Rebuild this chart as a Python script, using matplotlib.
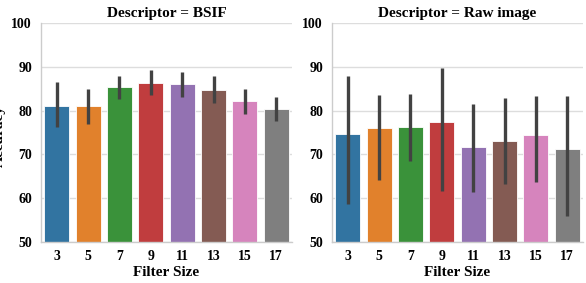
import matplotlib
matplotlib.use("Agg")
import matplotlib.pyplot as plt
import numpy as np

filter_sizes = ["3", "5", "7", "9", "11", "13", "15", "17"]
descriptors = ["BSIF", "Raw image"]
bsif_mean = [81.1, 81.0, 85.3, 86.3, 86.0, 84.8, 82.1, 80.3]
bsif_low = [76.2, 77.0, 82.6, 83.6, 83.2, 81.7, 79.2, 77.6]
bsif_high = [86.5, 85.0, 87.8, 89.2, 88.7, 87.8, 85.0, 83.0]
raw_mean = [74.6, 76.0, 76.2, 77.3, 71.6, 73.1, 74.4, 71.2]
raw_low = [58.6, 64.1, 68.6, 61.7, 61.5, 63.2, 63.8, 56.0]
raw_high = [87.8, 83.6, 83.7, 89.8, 81.6, 82.9, 83.4, 83.4]
yticks = [50, 60, 70, 80, 90, 100]

colors = ["#3274a1", "#e1812c", "#3a923a", "#c03d3e", "#9372b2", "#845b53", "#d684bd", "#7f7f7f"]

plt.rcParams['font.family'] = ['Liberation Serif', 'DejaVu Serif']
plt.rcParams['font.weight'] = 'bold'

fig = plt.figure(figsize=(5.86, 2.83), dpi=100)
ax1 = fig.add_axes([41/586, 1-242/283, 251/586, 219/283])
ax2 = fig.add_axes([332/586, 1-242/283, 251/586, 219/283])

for ax, name, m, lo, hi in [(ax1, descriptors[0], bsif_mean, bsif_low, bsif_high),
                            (ax2, descriptors[1], raw_mean, raw_low, raw_high)]:
    x = np.arange(len(filter_sizes))
    ax.set_axisbelow(True)
    ax.yaxis.grid(True, color="#dddddd", linewidth=1.0)
    ax.bar(x, m, width=0.8, color=colors, edgecolor="white", linewidth=0.6, bottom=0)
    for xi, l, h in zip(x, lo, hi):
        ax.plot([xi, xi], [l, h], color="#424242", linewidth=2.4, solid_capstyle="butt")
    ax.set_ylim(50, 100)
    ax.set_xlim(-0.5, len(filter_sizes) - 0.5)
    ax.set_yticks(yticks)
    ax.set_xticks(x)
    ax.set_xticklabels(filter_sizes)
    ax.tick_params(axis='x', labelsize=10, length=0, pad=6)
    ax.tick_params(axis='y', labelsize=10, length=0, pad=6.5)
    for lab in ax.get_xticklabels() + ax.get_yticklabels():
        lab.set_fontweight('bold')
    ax.set_title(f"Descriptor = {name}", fontsize=11, fontweight='bold', pad=4)
    ax.set_xlabel("Filter Size", fontsize=11, fontweight='bold', labelpad=2)
    for s in ["top", "right"]:
        ax.spines[s].set_visible(False)
    for s in ["left", "bottom"]:
        ax.spines[s].set_color("#cccccc")
        ax.spines[s].set_linewidth(1.0)

fig.text(-0.012, 0.52, "Accuracy", rotation=90, fontsize=11, fontweight='bold', ha='left', va='center')

fig.savefig("out.png", dpi=100)
